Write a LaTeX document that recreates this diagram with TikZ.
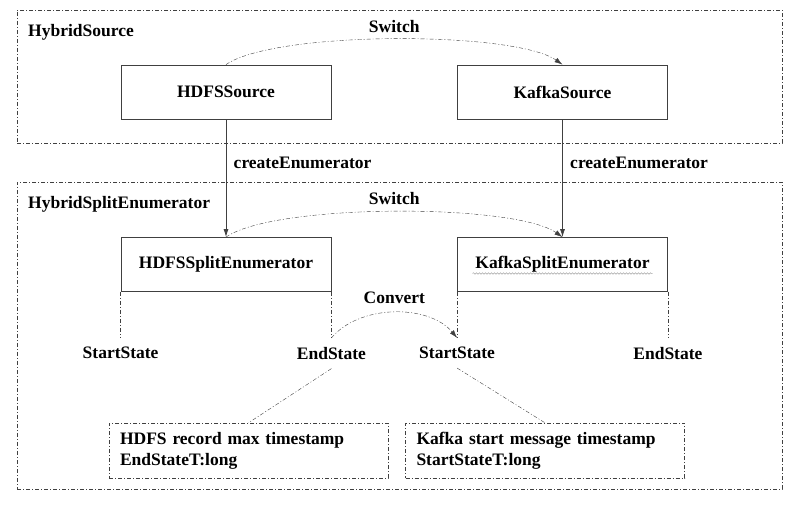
\documentclass[tikz,border=0pt]{standalone}
\usepackage{fontspec}
\setmainfont{Liberation Serif}
\usetikzlibrary{arrows.meta, positioning, calc, decorations.pathmorphing}
\tikzset{
	frame/.style={draw=black!75, dash pattern=on 4pt off 2pt on 1pt off 2pt, inner sep=0pt},
	block/.style={draw=black!75, line width=0.8pt, minimum width=210pt, minimum height=54pt},
	dashdot/.style={draw=black!75, dash pattern=on 4pt off 2pt on 1pt off 2pt},
	flow/.style={-{Latex[length=8pt,width=5pt]}},
	statelabel/.style={inner xsep=2pt, inner ysep=9pt},
	note/.style={frame, minimum width=279pt, minimum height=55pt, text width=257pt, align=left, inner xsep=11pt},
	squiggle/.style={draw=black!35, line width=0.5pt, decorate, decoration={snake, amplitude=0.8pt, segment length=3pt}}
}

\begin{document}
\begin{tikzpicture}[x=1pt, y=1pt, font=\fontsize{17.5}{21}\selectfont\bfseries]
	\useasboundingbox (0,0) rectangle (795,-505);
	
	% outer frames
	\node[frame, minimum width=765pt, minimum height=133pt] (hybridsource) at (399.5,-76.5) {};
	\node[anchor=west, inner sep=0pt] (hybridsourcetitle) at (28,-32) {HybridSource};
	\node[frame, minimum width=765pt, minimum height=307pt] (hybridenum) at (399.5,-335.5) {};
	\node[anchor=west, inner sep=0pt] (hybridenumtitle) at (28,-204) {HybridSplitEnumerator};
	
	% sources and enumerators
	\node[block] (hdfssource) at (226,-92) {HDFSSource};
	\node[block] (kafkasource) at (562.5,-92) {KafkaSource};
	\node[block] (hdfsenum) at (226,-264.5) {HDFSSplitEnumerator};
	\node[block] (kafkaenum) at (562.5,-264.5) {KafkaSplitEnumerator};
	\draw[squiggle] ($(kafkaenum.center)+(-90,-9)$) -- ($(kafkaenum.center)+(90,-9)$);
	
	\draw[flow, draw=black!75, line width=0.8pt] (hdfssource) -- node[pos=0.37, right=4pt] (createhdfs) {createEnumerator} (hdfsenum);
	\draw[flow, draw=black!75, line width=0.8pt] (kafkasource) -- node[pos=0.37, right=4pt] (createkafka) {createEnumerator} (kafkaenum);
	
	% switch
	\draw[dashdot, flow] (hdfssource.north) to[out=35, in=145, looseness=0.45] node[above=3pt] (switchsrc) {Switch} (kafkasource.north);
	\draw[dashdot, flow] (hdfsenum.north) to[out=35, in=145, looseness=0.45] node[above=3pt] (switchenum) {Switch} (kafkaenum.north);
	
	% states
	\node[statelabel, below=46pt of hdfsenum.south west] (hdfsstart) {StartState};
	\node[statelabel, below=46pt of hdfsenum.south east] (hdfsend) {EndState};
	\node[statelabel, below=46pt of kafkaenum.south west] (kafkastart) {StartState};
	\node[statelabel, below=46pt of kafkaenum.south east] (kafkaend) {EndState};
	\draw[dashdot] (hdfsenum.south west) -- (hdfsstart);
	\draw[dashdot] (hdfsenum.south east) -- (hdfsend);
	\draw[dashdot] (kafkaenum.south west) -- (kafkastart);
	\draw[dashdot] (kafkaenum.south east) -- (kafkaend);
	
	\draw[dashdot, flow] (hdfsend.north) to[out=50, in=130, looseness=0.9] node[above=5pt] (convert) {Convert} (kafkastart.north);
	
	% notes
	\node[note] (hdfsnote) at (248.5,-450.5) {HDFS record max timestamp\\EndStateT:long};
	\node[note] (kafkanote) at (545,-450.5) {Kafka start message timestamp\\StartStateT:long};
	\draw[dashdot] (hdfsend.south) -- (hdfsnote.north);
	\draw[dashdot] (kafkastart.south) -- (kafkanote.north);
\end{tikzpicture}
\end{document}
